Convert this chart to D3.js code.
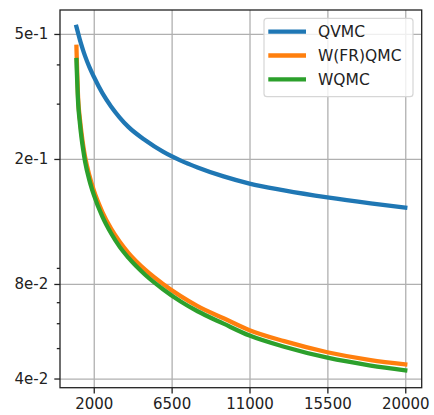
<!DOCTYPE html>
<html>
<head>
<meta charset="utf-8">
<script src="https://cdn.jsdelivr.net/npm/d3@7"></script>
<style>
  body { margin: 0; background: #fff; }
  text { font-family: "DejaVu Sans", sans-serif; }
</style>
</head>
<body>
<script>
// Sample sizes (x) and error values per method
const nValues = [1000, 1100, 1200, 1300, 1400, 1500, 1750, 2000, 2500, 3000, 3500, 4000,
                 5000, 6000, 7000, 8000, 9500, 11000, 13000, 15500, 18000, 20000];
const qvmc    = [0.527, 0.502, 0.479, 0.459, 0.441, 0.425, 0.392, 0.366, 0.324, 0.294, 0.271, 0.253,
                 0.229, 0.211, 0.198, 0.188, 0.176, 0.167, 0.159, 0.151, 0.1445, 0.140];
const wfrqmc  = [0.455, 0.31, 0.268, 0.240, 0.219, 0.203, 0.177, 0.159, 0.1355, 0.120, 0.109, 0.1005,
                 0.0885, 0.080, 0.0733, 0.068, 0.0622, 0.0570, 0.0526, 0.0485, 0.0458, 0.0444];
const wqmc    = [0.413, 0.30, 0.260, 0.232, 0.212, 0.196, 0.171, 0.154, 0.131, 0.116, 0.105, 0.097,
                 0.0853, 0.077, 0.0705, 0.0655, 0.0598, 0.0548, 0.0505, 0.0466, 0.0440, 0.0425];

const seriesNames = ['QVMC', 'W(FR)QMC', 'WQMC'];
const seriesColors = ['#1f77b4', '#ff7f0e', '#2ca02c'];

const xTicks = [2000, 6500, 11000, 15500, 20000];
const yTicks = [0.04, 0.08, 0.2, 0.5];
const yTickLabels = ['4e-2', '8e-2', '2e-1', '5e-1'];
const yMinorTicks = [0.05, 0.06, 0.07, 0.09, 0.3, 0.4];

const width = 434;
const height = 415;
const margin = { top: 10, right: 12.3, bottom: 27.3, left: 60 };
const innerWidth = width - margin.left - margin.right;
const innerHeight = height - margin.top - margin.bottom;

const svg = d3.select('body')
    .append('svg')
    .attr('width', width)
    .attr('height', height);

const g = svg.append('g')
    .attr('transform', `translate(${margin.left}, ${margin.top})`);

// Scales (5% margins like matplotlib)
const xScale = d3.scaleLinear()
    .domain([50, 20950])
    .range([0, innerWidth]);

const yScale = d3.scaleLog()
    .domain([0.0374, 0.596])
    .range([innerHeight, 0]);

// Grid lines
g.append('g')
    .attr('transform', `translate(0, ${innerHeight})`)
    .call(d3.axisBottom(xScale).tickValues(xTicks).tickSize(-innerHeight).tickFormat(''))
    .call(a => a.select('.domain').remove())
    .call(a => a.selectAll('line').attr('stroke', '#b0b0b0').attr('stroke-width', 1.3));

g.append('g')
    .call(d3.axisLeft(yScale).tickValues(yTicks).tickSize(-innerWidth).tickFormat(''))
    .call(a => a.select('.domain').remove())
    .call(a => a.selectAll('line').attr('stroke', '#b0b0b0').attr('stroke-width', 1.3));

// Lines
const series = [qvmc, wfrqmc, wqmc];
const line = d3.line()
    .x((d, i) => xScale(nValues[i]))
    .y(d => yScale(d))
    .curve(d3.curveMonotoneX);

series.forEach((vals, k) => {
    g.append('path')
        .datum(vals)
        .attr('fill', 'none')
        .attr('stroke', seriesColors[k])
        .attr('stroke-width', 4.3)
        .attr('stroke-linecap', 'square')
        .attr('stroke-linejoin', 'round')
        .attr('d', line);
});

// Frame
g.append('rect')
    .attr('width', innerWidth)
    .attr('height', innerHeight)
    .attr('fill', 'none')
    .attr('stroke', '#222')
    .attr('stroke-width', 1.3);

// Axes
const xAxis = g.append('g')
    .attr('transform', `translate(0, ${innerHeight})`)
    .call(d3.axisBottom(xScale).tickValues(xTicks).tickSize(5.7).tickPadding(5).tickFormat(d3.format('d')));

const yAxis = g.append('g')
    .call(d3.axisLeft(yScale).tickValues(yTicks).tickSize(5.7).tickPadding(6)
        .tickFormat((d, i) => yTickLabels[i]));

g.append('g')
    .call(d3.axisLeft(yScale).tickValues(yMinorTicks).tickSize(3.2).tickFormat(''))
    .call(a => a.select('.domain').remove());

g.selectAll('.domain').remove();
g.selectAll('.tick line').filter(function () { return +d3.select(this).attr('x2') < 0 || +d3.select(this).attr('y2') > 0; })
    .attr('stroke', '#222').attr('stroke-width', 1.3);
[xAxis, yAxis].forEach(a => a.selectAll('text')
    .style('font-size', '15px')
    .attr('fill', '#222'));

// Legend
const legend = svg.append('g');
legend.append('rect')
    .attr('x', 264)
    .attr('y', 18.3)
    .attr('width', 149)
    .attr('height', 78.4)
    .attr('rx', 3)
    .attr('fill', 'rgba(255,255,255,0.8)')
    .attr('stroke', '#d6d6d6')
    .attr('stroke-width', 1.2);

seriesNames.forEach((name, k) => {
    const y = 31.7 + k * 23.8;
    legend.append('line')
        .attr('x1', 268.3).attr('x2', 306)
        .attr('y1', y).attr('y2', y)
        .attr('stroke', seriesColors[k])
        .attr('stroke-width', 4.3);
    legend.append('text')
        .attr('x', 318)
        .attr('y', y)
        .attr('dy', '0.36em')
        .style('font-size', '15.5px')
        .attr('fill', '#222')
        .text(name);
});
</script>
</body>
</html>
